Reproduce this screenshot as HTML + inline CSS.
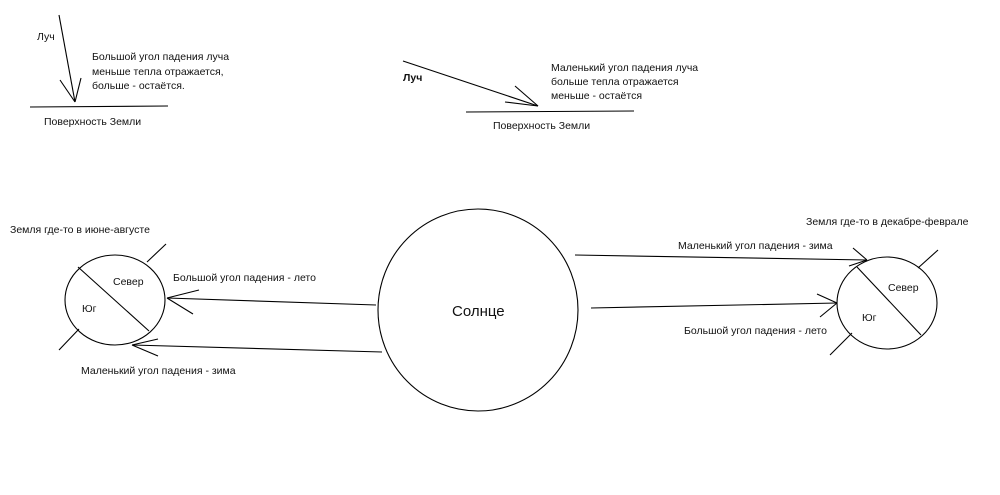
<!DOCTYPE html>
<html><head><meta charset="utf-8"><style>
body{margin:0;background:#fff}
svg text{font-family:"Liberation Sans",sans-serif;font-size:10.5px;fill:#111}
</style></head><body>
<svg width="1000" height="490" viewBox="0 0 1000 490" xmlns="http://www.w3.org/2000/svg">
<g stroke="#000" stroke-width="1.1" fill="none">
<line x1="59" y1="15" x2="75" y2="102"/>
<line x1="60" y1="80" x2="75" y2="102"/>
<line x1="81" y1="78" x2="75" y2="102"/>
<line x1="30" y1="107" x2="168" y2="106"/>
<line x1="403" y1="61" x2="538" y2="106"/>
<line x1="515" y1="86" x2="538" y2="106"/>
<line x1="505" y1="102" x2="538" y2="106"/>
<line x1="466" y1="112" x2="634" y2="111"/>
<ellipse cx="478" cy="310" rx="100" ry="101"/>
<ellipse cx="115" cy="300" rx="50" ry="45"/>
<line x1="78" y1="267" x2="149" y2="331"/>
<line x1="147" y1="262" x2="166" y2="244"/>
<line x1="79" y1="329" x2="59" y2="350"/>
<line x1="376" y1="305" x2="167" y2="298"/>
<line x1="199" y1="290" x2="167" y2="298"/>
<line x1="193" y1="314" x2="167" y2="298"/>
<line x1="382" y1="352" x2="132" y2="345"/>
<line x1="158" y1="339" x2="132" y2="345"/>
<line x1="158" y1="356" x2="132" y2="345"/>
<ellipse cx="887" cy="303" rx="50" ry="46"/>
<line x1="857" y1="267" x2="921" y2="335"/>
<line x1="918" y1="268" x2="938" y2="250"/>
<line x1="852" y1="333" x2="830" y2="355"/>
<line x1="575" y1="255" x2="867" y2="260"/>
<line x1="853" y1="248" x2="867" y2="260"/>
<line x1="849" y1="266" x2="867" y2="260"/>
<line x1="591" y1="308" x2="837" y2="303"/>
<line x1="817" y1="294" x2="837" y2="303"/>
<line x1="820" y1="317" x2="837" y2="303"/>
</g>
<text x="37" y="40">Луч</text>
<text x="92" y="60">Большой угол падения луча</text>
<text x="92" y="75">меньше тепла отражается,</text>
<text x="92" y="89">больше - остаётся.</text>
<text x="44" y="125">Поверхность Земли</text>
<text x="403" y="81" font-weight="bold">Луч</text>
<text x="551" y="71">Маленький угол падения луча</text>
<text x="551" y="85">больше тепла отражается</text>
<text x="551" y="99">меньше - остаётся</text>
<text x="493" y="129">Поверхность Земли</text>
<text x="10" y="233">Земля где-то в июне-августе</text>
<text x="113" y="285">Север</text>
<text x="82" y="312">Юг</text>
<text x="173" y="281">Большой угол падения - лето</text>
<text x="81" y="374">Маленький угол падения - зима</text>
<text x="452" y="316" style="font-size:15px">Солнце</text>
<text x="806" y="225">Земля где-то в декабре-феврале</text>
<text x="678" y="249">Маленький угол падения - зима</text>
<text x="888" y="291">Север</text>
<text x="862" y="321">Юг</text>
<text x="684" y="334">Большой угол падения - лето</text>
</svg>
</body></html>
